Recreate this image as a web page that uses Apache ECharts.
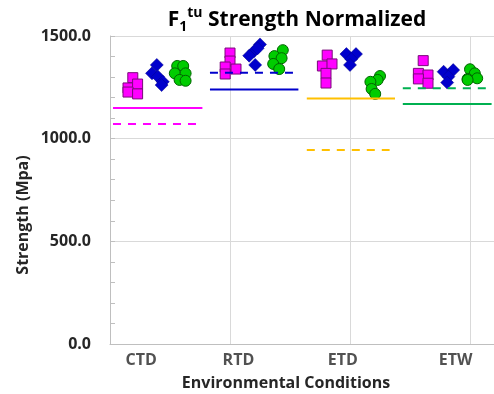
<!DOCTYPE html>
<html>
<head>
<meta charset="utf-8">
<script src="https://cdn.jsdelivr.net/npm/echarts@6/dist/echarts.min.js"></script>
<style>
  html, body { margin: 0; padding: 0; background: #fff; }
  #main { width: 494px; height: 394px; }
</style>
</head>
<body>
<div id="main"></div>
<script>
// categories and where their label sits on the x scale
const categories = ['CTD', 'RTD', 'ETD', 'ETW'];
const categoryLabelX = [0.26, 1.07, 1.94, 2.88];

// individual specimens (x = jittered position, y = strength)
const squareX = [[0.19, 0.15, 0.23, 0.15, 0.23], [1.00, 1.00, 0.96, 1.05, 0.96], [1.81, 1.77, 1.85, 1.80, 1.80], [2.61, 2.57, 2.65, 2.57, 2.65]];
const squareY = [[1297, 1247, 1266, 1227, 1218], [1417, 1378, 1349, 1339, 1315], [1407, 1354, 1364, 1318, 1271], [1380, 1318, 1310, 1291, 1270]];
const diamondX = [[0.39, 0.35, 0.40, 0.44, 0.43], [1.25, 1.20, 1.16, 1.21, 1.23], [1.97, 2.05, 2.01, 2.00], [2.78, 2.86, 2.82, 2.81]];
const diamondY = [[1359, 1318, 1302, 1277, 1261], [1459, 1426, 1404, 1359, 1440], [1412, 1412, 1388, 1359], [1326, 1334, 1302, 1273]];
const circleX = [[0.56, 0.61, 0.54, 0.63, 0.58, 0.63], [1.44, 1.37, 1.43, 1.36, 1.41], [2.25, 2.23, 2.17, 2.18, 2.21], [3.00, 3.04, 2.98, 3.06, 2.98]];
const circleY = [[1354, 1354, 1318, 1318, 1286, 1282], [1431, 1402, 1392, 1364, 1339], [1305, 1286, 1277, 1242, 1218], [1338, 1318, 1291, 1294, 1286]];

// normalized reference levels per condition
const solidVals = [1149, 1240, 1196, 1169];
const dashedVals = [1071, 1321, 945, 1245];
const lineStart = [0.025, 0.833, 1.64, 2.44];
const solidEnd = [0.77, 1.57, 2.375, 3.18];
const dashedEnd = [0.725, 1.525, 2.33, 3.17];
const lineColors = ['#FF00FF', '#0000CC', '#FFC000', '#00B050'];

const yTicks = [0, 500, 1000, 1500];

const FONT = 'Open Sans';

function pairs(xs, ys) {
  let out = [];
  xs.forEach((row, i) => row.forEach((x, j) => out.push([x, ys[i][j]])));
  return out;
}

let series = [];
categories.forEach((c, i) => {
  series.push({
    type: 'line', name: c + ' solid', symbol: 'none', silent: true,
    data: [[lineStart[i], solidVals[i]], [solidEnd[i], solidVals[i]]],
    lineStyle: { color: lineColors[i], width: 2 }
  });
  series.push({
    type: 'line', name: c + ' dashed', symbol: 'none', silent: true,
    data: [[lineStart[i], dashedVals[i]], [dashedEnd[i], dashedVals[i]]],
    lineStyle: { color: lineColors[i], width: 2, type: [8, 7] }
  });
});

series.push({
  type: 'scatter', symbol: 'rect', symbolSize: 10,
  data: pairs(squareX, squareY),
  itemStyle: { color: '#FF00FF', borderColor: '#7A0A7A', borderWidth: 1, opacity: 1 }
});
series.push({
  type: 'scatter', symbol: 'diamond', symbolSize: 13,
  data: pairs(diamondX, diamondY),
  itemStyle: { color: '#0000CC', borderColor: '#00008B', borderWidth: 0.5, opacity: 1 }
});
series.push({
  type: 'scatter', symbol: 'circle', symbolSize: 11,
  data: pairs(circleX, circleY),
  itemStyle: { color: '#00CC00', borderColor: '#006400', borderWidth: 1, opacity: 1 }
});

// category names drawn through the x scale
series.push({
  type: 'scatter', symbolSize: 0, silent: true, clip: false,
  data: categories.map((c, i) => ({ value: [categoryLabelX[i], 0], name: c })),
  label: {
    show: true, position: 'bottom', distance: 8,
    formatter: p => p.name,
    fontFamily: FONT, fontWeight: 'bold', fontSize: 16, color: '#262626'
  }
});

let chart = echarts.init(document.getElementById('main'), null, { renderer: 'canvas' });
chart.setOption({
  animation: false,
  backgroundColor: '#fff',
  grid: { left: 110, right: 0, top: 36, bottom: 50 },
  xAxis: {
    type: 'value', min: 0, max: 3.2, interval: 1,
    axisLine: { show: true, lineStyle: { color: '#BFBFBF', width: 1 } },
    axisTick: { show: false },
    axisLabel: { show: false },
    splitLine: { show: true, lineStyle: { color: '#D9D9D9', width: 1 } }
  },
  yAxis: {
    type: 'value', min: yTicks[0], max: yTicks[yTicks.length - 1], interval: 500,
    axisLine: { show: true, lineStyle: { color: '#BFBFBF', width: 1 } },
    axisTick: { show: true, inside: true, length: 5, lineStyle: { color: '#BFBFBF' } },
    minorTick: { show: true, splitNumber: 5, length: 5, lineStyle: { color: '#BFBFBF' } },
    axisLabel: {
      margin: 19, formatter: v => v.toFixed(1),
      fontFamily: FONT, fontWeight: 'bold', fontSize: 16, color: '#262626'
    },
    splitLine: { show: true, lineStyle: { color: '#D9D9D9', width: 1 } }
  },
  graphic: [
    {
      type: 'text', x: 297, y: 20,
      style: {
        text: '{a|F}{s|1}{p|tu}{a| Strength Normalized}',
        align: 'center', verticalAlign: 'middle',
        rich: {
          a: { fontFamily: FONT, fontWeight: 'bold', fontSize: 21, color: '#000', lineHeight: 28 },
          s: { fontFamily: FONT, fontWeight: 'bold', fontSize: 14, color: '#000', lineHeight: 28, verticalAlign: 'bottom', padding: [11, 0, 0, 0] },
          p: { fontFamily: FONT, fontWeight: 'bold', fontSize: 14, color: '#000', lineHeight: 28, verticalAlign: 'top', padding: [0, 0, 8, 0] }
        }
      }
    },
    {
      type: 'text', x: 286, y: 383,
      style: {
        text: 'Environmental Conditions', align: 'center', verticalAlign: 'middle',
        fontFamily: FONT, fontWeight: 'bold', fontSize: 16, fill: '#262626'
      }
    },
    {
      type: 'text', x: 23, y: 215, rotation: Math.PI / 2,
      style: {
        text: 'Strength (Mpa)', align: 'center', verticalAlign: 'middle',
        fontFamily: FONT, fontWeight: 'bold', fontSize: 16, fill: '#262626'
      }
    }
  ],
  series: series
});
window.addEventListener('resize', chart.resize);
</script>
</body>
</html>
